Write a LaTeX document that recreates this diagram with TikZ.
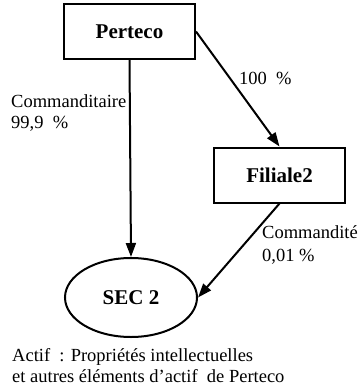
\documentclass[tikz,border=0pt]{standalone}
\usepackage{fontspec}
\setmainfont{Liberation Serif}
\usetikzlibrary{arrows.meta,shapes.geometric}
\begin{document}
\begin{tikzpicture}[x=1pt,y=-1pt,
  entity/.style={draw,line width=2pt,rectangle,minimum width=131pt,minimum height=55pt,
    inner sep=0pt,font=\fontsize{21}{24}\selectfont\bfseries},
  partner/.style={draw,line width=2pt,ellipse,minimum width=132pt,minimum height=79pt,
    inner sep=0pt,font=\fontsize{21}{24}\selectfont\bfseries},
  link/.style={line width=2pt,-{Triangle[length=14pt,width=10pt]}},
  lbl/.style={anchor=base west,inner sep=0pt,font=\fontsize{18.5}{24}\selectfont}]
\useasboundingbox (0,0) rectangle (360,388);
% entities
\node[entity] (p) at (129.5,31.5) {Perteco};
\node[entity] (f) at (279.5,175) {Filiale2};
\node[partner] (s) at (131,297.5) {SEC 2};
% ownership links
\draw[link] (p.south) -- (s.north);
\draw[link] (p.east) -- (f.north);
\draw[link] (f.south) -- (s.east);
% labels
\node[lbl] (l1) at (11,107) {Commanditaire};
\node[lbl] (l2) at (11,128) {99,9~~\%};
\node[lbl] (l3) at (239,84) {100~~\%};
\node[lbl] (l4) at (262,238) {Commandité};
\node[lbl] (l5) at (262,261) {0,01 \%};
\node[lbl] (l6) at (12,361) {Actif~~: Propriétés intellectuelles};
\node[lbl] (l7) at (12,382) {et autres éléments d’actif~~de Perteco};
\end{tikzpicture}
\end{document}
